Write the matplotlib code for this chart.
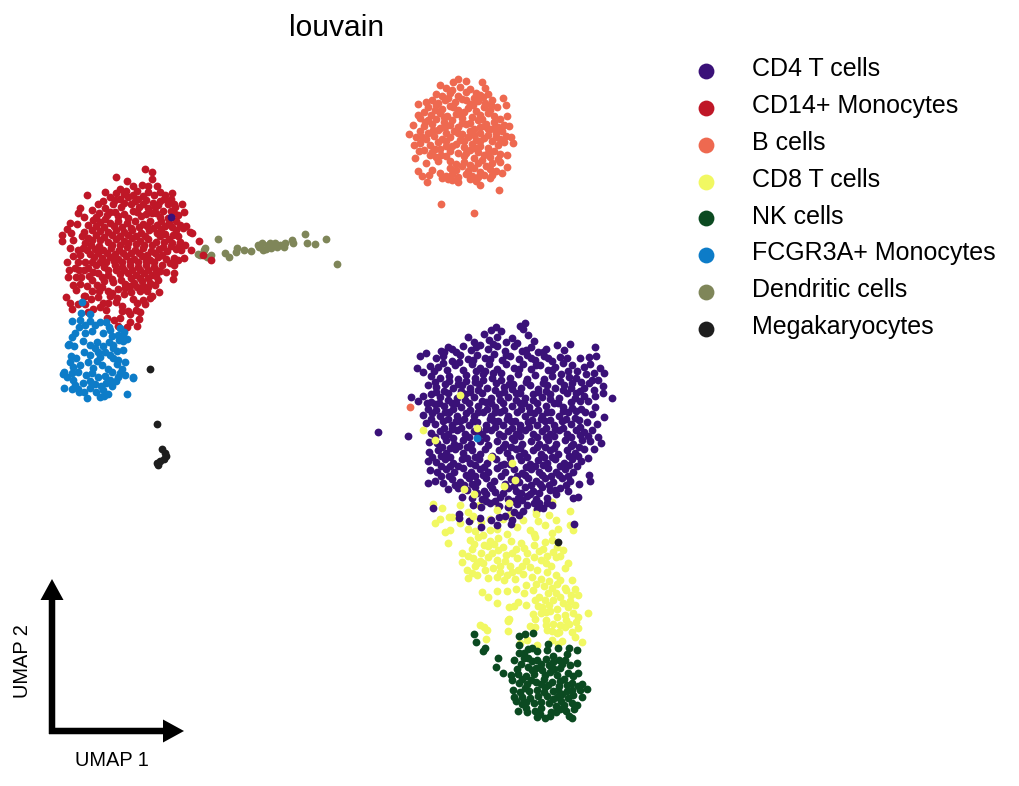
import numpy as np
import matplotlib
matplotlib.use('Agg')
import matplotlib.pyplot as plt
from matplotlib.lines import Line2D

plt.rcParams['font.family'] = ['Liberation Sans', 'DejaVu Sans']

# values, x right / y down
categories = ['CD4 T cells', 'CD14+ Monocytes', 'B cells', 'CD8 T cells', 'NK cells',
              'FCGR3A+ Monocytes', 'Dendritic cells', 'Megakaryocytes']
colors = ['#3a1178', '#bf1727', '#ee6950', '#f1f862', '#0b4a21', '#0d7cc8', '#7f8659', '#1e1e1e']

cd4 = [(378,432),(408,436),(171,217),(491,330),(496,327),(501,331),(520,326),(525,323),(523,329),
(468,337),(474,342),(484,334),(489,340),(497,337),(506,342),(512,338),(528,335),(534,341),
(441,351),(448,347),(456,352),(463,346),(471,350),(480,345),(488,349),(497,346),(505,351),(514,346),(522,351),(531,347),(538,352),(546,349),(557,345),(564,350),(570,344),
(420,356),(426,353),(436,358),(443,356),(452,361),(460,355),(468,359),(477,355),(485,358),(494,354),(502,360),(510,356),(519,359),(527,355),(535,360),(544,356),(552,361),(560,357),(567,358),(595,347),
(417,368),(423,372),(430,366),(438,367),(447,370),(455,365),(463,370),(472,364),(480,368),(489,364),(497,369),(506,364),(514,368),(523,364),(531,369),(540,365),(548,370),(555,367),(563,363),(572,365),(580,358),(589,357),(596,356),(590,364),(600,368),
(431,376),(440,378),(449,376),(458,379),(466,375),(475,378),(483,374),(492,378),(501,373),(510,378),(518,374),(527,379),(535,375),(544,379),(552,376),(561,374),(569,377),(577,371),(586,374),(594,373),(604,373),
(428,385),(436,387),(445,384),(453,388),(462,385),(470,388),(479,384),(487,388),(496,383),(504,387),(513,384),(521,388),(530,385),(538,389),(547,385),(555,388),(564,385),(572,383),(581,382),(589,383),(598,380),
(423,396),(431,394),(440,397),(448,393),(457,398),(465,394),(474,397),(482,393),(491,398),(499,394),(508,397),(516,393),(525,398),(533,394),(542,397),(550,394),(559,398),(567,393),(576,393),(584,388),(594,390),(603,386),(612,398),
(411,397),(418,401),(427,403),(435,404),(444,406),(452,403),(461,407),(469,403),(478,406),(486,402),(495,407),(503,403),(512,406),(520,403),(529,407),(537,403),(546,406),(554,403),(563,407),(571,402),(580,401),(588,401),(603,393),(595,396),
(423,415),(432,413),(440,416),(449,412),(457,416),(466,413),(474,416),(483,412),(491,416),(500,412),(508,416),(517,412),(525,416),(534,413),(542,416),(551,412),(559,416),(568,412),(576,411),(585,412),(595,407),(604,417),(592,414),
(426,423),(435,424),(443,421),(452,425),(460,421),(469,425),(477,422),(486,425),(494,421),(503,425),(511,421),(520,425),(528,422),(537,425),(545,421),(554,425),(562,421),(571,424),(579,420),(587,422),(597,424),
(431,433),(440,431),(448,434),(457,430),(465,434),(474,431),(482,434),(491,430),(499,434),(508,431),(516,434),(525,430),(533,434),(542,431),(550,434),(559,430),(567,434),(576,430),(584,432),(592,430),(598,437),
(429,442),(437,443),(446,440),(454,444),(463,440),(471,444),(480,441),(488,445),(497,441),(505,444),(514,440),(522,444),(531,441),(539,444),(548,440),(556,444),(565,440),(573,444),(582,440),(590,441),(601,443),
(429,452),(438,450),(446,453),(455,449),(463,453),(472,450),(480,454),(499,450),(507,453),(516,449),(524,453),(533,450),(541,454),(550,450),(558,454),(567,450),(575,453),(584,449),(594,449),
(428,461),(436,462),(445,459),(453,463),(462,459),(470,463),(479,459),(487,463),(496,459),(504,464),(521,460),(530,464),(538,460),(547,463),(555,459),(564,463),(572,459),(581,461),(588,458),
(430,470),(437,472),(446,469),(454,472),(463,468),(471,472),(480,469),(488,472),(497,468),(505,472),(514,469),(522,473),(531,469),(539,472),(548,468),(556,472),(565,469),(573,472),(589,475),(590,481),
(428,483),(435,481),(443,483),(452,479),(460,482),(469,478),(477,482),(486,478),(494,481),(511,479),(519,482),(528,478),(536,481),(545,478),(553,482),(562,478),(570,481),(579,484),
(448,489),(458,488),(467,490),(475,487),(484,491),(492,488),(508,488),(516,491),(525,487),(533,491),(542,487),(550,490),(560,488),(568,491),(573,498),(578,497),
(462,497),(472,498),(482,499),(500,497),(508,499),(518,498),(527,496),(536,499),(547,498),(556,494),
(473,505),(481,507),(490,503),(499,506),(508,507),(517,504),(527,505),(534,503),(543,508),(552,505),
(433,508),(459,514),(469,521),(481,527),(491,520),(497,525),(480,518),(514,512),(505,516),(523,511),(537,509),(512,520),(519,515),(459,518),(511,524),(574,524),(499,517)]

cd4_dense = [(444,352),(452,349),(476,347),(493,344),(517,343),(526,350),(543,352),(473,360),(490,359),(506,355),(531,358),(548,358),
(434,371),(443,363),(459,362),(476,371),(485,371),(493,373),(519,369),(536,365),(552,370),(568,371),(584,367),
(435,382),(449,381),(458,384),(466,381),(475,382),(483,380),(501,380),(509,384),(526,382),(543,383),(560,381),(576,378),(592,380),
(436,392),(444,391),(461,391),(470,392),(478,390),(495,390),(504,392),(512,389),(520,393),(538,392),(546,391),(563,390),(571,388),(580,391),
(431,402),(439,403),(448,400),(456,403),(465,400),(482,401),(491,403),(500,400),(516,400),(524,403),(533,400),(550,399),(558,403),(575,398),(584,396),
(428,409),(436,410),(445,412),(453,409),(470,410),(478,412),(487,409),(495,412),(504,410),(521,409),(530,412),(538,410),(547,412),(563,411),(572,408),(581,409),
(431,419),(448,419),(456,421),(464,419),(473,421),(490,419),(498,421),(507,419),(515,421),(532,420),(541,419),(550,420),(566,419),(575,418),
(444,428),(452,429),(461,428),(478,429),(486,429),(495,427),(512,428),(520,429),(529,427),(546,428),(555,429),(563,428),(580,427),
(435,437),(444,436),(453,438),(469,437),(478,436),(486,438),(503,436),(512,438),(520,436),(537,437),(546,437),(554,436),(571,437),(580,435),(588,436),
(442,447),(450,448),(459,446),(467,447),(485,449),(503,447),(511,447),(520,448),(537,447),(545,447),(554,448),(571,446),(579,447),
(432,457),(441,456),(450,457),(467,458),(475,457),(492,456),(510,458),(519,456),(527,457),(544,457),(552,457),(569,456),(578,456),
(441,466),(450,466),(458,466),(475,465),(484,467),(501,465),(510,464),(526,467),(535,466),(543,465),(560,466),(569,465),(577,466),
(441,476),(449,476),(466,475),(475,476),(483,475),(501,476),(517,476),(525,475),(542,475),(551,476),(559,475),(568,476),
(455,485),(464,485),(472,484),(490,485),(505,484),(514,486),(531,485),(540,484),(549,485),(566,485),
(477,493),(486,494),(495,492),(503,493),(521,493),(530,494),(539,493),(555,490),(486,501),(495,501),(513,501),(522,500),(539,503),(547,503)]

cd14 = [(145,169),(152,172),(152,179),(116,177),(127,181),(133,186),(142,185),(148,186),(157,186),(160,192),(165,195),(172,193),(87,195),(105,192),
(120,189),(116,193),(126,191),(137,191),(148,192),(154,195),(171,199),(168,204),(174,204),(182,204),(184,212),(80,208),
(110,197),(120,199),(128,197),(138,199),(146,200),(153,203),(160,201),(98,204),(105,208),(113,204),(121,207),(131,204),(139,207),(148,208),(155,207),(163,211),(175,207),(174,213),
(78,213),(84,217),(92,210),(99,213),(107,215),(115,212),(124,214),(133,211),(141,216),(152,213),(160,217),(168,218),(176,221),(183,228),(192,233),(190,232),
(70,223),(67,229),(77,224),(84,232),(93,220),(100,222),(110,223),(118,221),(127,223),(135,221),(143,224),(150,221),(157,225),(165,226),(172,227),(180,225),(186,226),
(62,235),(62,241),(73,240),(71,233),(92,230),(100,231),(108,232),(116,230),(124,232),(132,230),(141,233),(149,230),(157,233),(165,234),(173,235),(178,236),(199,241),
(70,248),(78,250),(85,243),(92,240),(100,240),(108,242),(116,239),(124,241),(132,238),(140,241),(148,239),(156,242),(164,242),(172,243),(180,242),(185,245),
(73,256),(80,255),(87,250),(95,249),(103,250),(111,248),(119,250),(127,247),(135,250),(143,248),(151,251),(159,249),(167,251),(176,249),(181,250),(191,250),
(78,262),(85,262),(67,262),(75,268),(94,257),(102,258),(110,257),(118,259),(126,256),(134,259),(142,256),(150,260),(158,257),(166,259),(174,258),(184,258),(203,255),(211,260),
(68,277),(69,270),(79,270),(88,268),(96,265),(104,267),(115,265),(122,267),(130,265),(138,267),(146,265),(154,267),(162,265),(170,263),(174,265),(178,260),
(73,285),(81,277),(89,276),(98,273),(108,275),(120,274),(128,273),(136,275),(144,273),(152,275),(160,271),(174,273),(173,279),(166,272),
(66,297),(76,290),(80,284),(92,280),(84,296),(104,281),(113,282),(121,280),(134,283),(142,281),(150,283),(158,280),(155,285),(148,287),
(70,303),(72,309),(78,304),(85,296),(92,291),(102,287),(108,291),(118,289),(125,288),(131,292),(140,291),(147,291),(152,296),(159,292),
(85,304),(91,299),(98,297),(103,303),(110,296),(108,303),(117,298),(124,294),(133,299),(137,303),(143,300),(150,298),(145,304),
(88,312),(93,309),(100,307),(106,310),(116,302),(122,306),(128,311),(136,310),(140,312),(130,314),(122,311),(107,318),(114,320),(120,318),(130,322),(139,319),(137,326),(127,327),(118,326)]

cd14_dense = [(124,194),(133,195),(143,196),(164,199),(115,200),(124,203),(135,201),(143,204),(158,205),(103,201),(110,212),(118,216),(128,218),(137,212),(146,214),(156,213),(171,211),
(96,217),(105,219),(114,226),(122,227),(131,228),(139,227),(147,226),(161,221),(169,223),(178,215),(88,225),(96,226),(104,227),(112,235),(120,236),(128,235),(136,236),(145,236),(153,228),(161,229),
(176,230),(82,236),(88,238),(96,235),(104,237),(112,245),(120,245),(128,243),(136,244),(144,245),(152,245),(160,236),(169,239),(179,246),(83,248),(91,245),(99,246),(107,253),(115,254),(123,253),
(131,253),(139,253),(147,255),(155,253),(163,247),(171,246),(90,254),(98,253),(106,262),(114,261),(122,262),(130,261),(138,262),(146,261),(154,262),(162,255),(92,262),(84,270),(100,262),(108,270),
(116,270),(124,270),(132,270),(140,270),(148,270),(156,270),(76,277),(93,272),(102,277),(112,279),(131,278),(140,278),(148,278),(156,276),(87,286),(97,285),(125,284),(130,286),(137,287),(143,286),(112,293),(99,291)]

b_cells = [(440,85),(453,82),(458,79),(466,81),(482,82),(485,88),(503,98),(506,105),(507,116),(509,126),(511,137),(513,143),(507,155),(507,167),(502,173),(499,190),(480,185),(458,182),(474,213),(441,204),(427,182),(422,176),(418,171),(429,175),(432,170),(426,163),(415,158),(419,151),(414,145),(409,134),(413,125),(418,115),(418,104),(426,102),(410,407),
(446,88),(452,90),(460,87),(470,89),(476,93),(436,94),(442,96),(450,93),(458,96),(466,92),(474,98),(480,95),(488,94),(432,100),(438,103),(445,100),(455,102),(462,99),(470,104),(478,101),(485,103),(492,100),
(428,107),(436,105),(442,109),(450,106),(458,110),(468,108),(476,111),(484,107),(490,110),(497,107),(424,112),(431,115),(440,113),(447,116),(456,114),(464,112),(472,117),(480,115),(488,113),(494,116),
(420,118),(428,120),(436,119),(444,122),(452,120),(462,118),(470,123),(478,120),(486,124),(494,122),(500,119),(424,126),(432,124),(440,128),(450,125),(458,127),(466,124),(474,129),(484,126),(490,129),(498,127),(504,125),
(420,131),(428,133),(438,130),(446,133),(454,131),(462,134),(470,131),(480,133),(488,135),(496,133),(502,131),(416,137),(426,139),(434,136),(442,139),(450,137),(460,140),(468,137),(476,140),(484,138),(492,141),(500,139),(506,136),
(420,143),(430,145),(438,142),(446,146),(456,144),(464,147),(472,144),(480,146),(488,148),(498,145),(504,142),(424,150),(432,152),(440,149),(450,151),(458,153),(470,150),(478,152),(484,155),(494,151),(500,154),
(430,155),(436,157),(446,156),(464,156),(474,158),(482,160),(490,157),(498,159),(438,161),(450,161),(456,164),(464,162),(470,165),(478,163),(486,166),(492,163),(500,162),
(450,168),(456,170),(462,166),(468,171),(474,168),(480,172),(490,169),(496,171),(440,173),(446,176),(452,174),(458,177),(466,174),(472,176),(478,177),(484,175),(492,175),(442,178),(448,179),(452,180),(470,179),(476,181),(490,178),
(448,98),(466,100),(483,97),(435,110),(453,107),(473,105),(491,105),(444,117),(460,114),(482,119),(425,122),(445,127),(462,123),(480,127),(494,128),(433,130),(458,133),(474,135),(488,129),(422,137),(446,141),(464,141),(480,141),(496,137),(435,149),(452,146),(466,153),(488,153),(441,155),(475,148)]

cd8 = [(433,504),(442,508),(449,517),(440,519),(452,517),(460,505),(468,512),(479,505),(498,506),(510,514),(536,511),(552,502),(570,511),(549,515),(570,525),
(445,532),(450,530),(448,543),(435,523),(460,523),(470,520),(481,522),(490,519),(503,519),(523,520),(538,521),(556,520),(573,530),
(468,529),(475,531),(483,535),(490,530),(497,529),(507,534),(517,527),(530,530),(534,534),(545,525),(552,533),(558,529),
(470,540),(478,537),(490,541),(498,538),(511,541),(521,543),(535,537),(545,542),(552,540),(557,547),
(462,553),(472,549),(481,553),(488,546),(498,550),(506,555),(516,549),(527,553),(534,545),(543,549),(553,552),(560,556),(563,550),
(462,562),(473,558),(480,561),(488,557),(497,560),(505,561),(517,558),(526,561),(541,560),(546,563),(556,557),(568,563),
(467,570),(475,566),(485,570),(493,568),(500,572),(510,566),(518,570),(530,567),(537,570),(547,572),(556,575),(565,568),
(468,578),(477,575),(488,578),(497,577),(507,575),(515,579),(523,574),(532,577),(541,579),(549,581),(557,584),(572,580),(565,588),
(482,592),(488,597),(497,591),(507,591),(516,589),(524,593),(533,590),(539,597),(548,593),(556,593),(566,590),(575,589),(578,595),
(497,603),(509,607),(508,620),(518,602),(526,605),(535,600),(542,607),(549,605),(560,597),(570,601),(575,605),(568,607),
(509,619),(514,606),(533,614),(541,613),(550,611),(557,617),(565,615),(573,613),(576,622),(588,613),
(530,626),(535,619),(546,620),(553,624),(560,625),(569,624),(578,617),(552,631),
(480,625),(484,627),(487,630),(486,639),(508,631),(508,621),(547,630),(557,633),(572,632),(578,628),(575,637),(582,642),(562,641),(535,627),(527,640),(546,625),
(520,643),(537,645),(552,640),(558,644),
(474,544),(484,545),(494,544),(503,547),(524,548),(539,551),(468,556),(477,563),(492,553),(500,566),(512,553),(522,566),(534,557),(547,556),(551,566),(472,573),(483,563),(504,580),(512,572),(526,585),(536,584),(544,586),(552,588),(560,580),(571,595),(563,603),(553,600),(545,600),(557,609),(538,606),(546,612),(566,620),(559,632),(565,627)]

cd8_on_top = [(423,430),(435,440),(491,457),(512,463),(460,395),(504,486),(515,480),(473,516),(497,510),(509,503),(536,514),(464,489),(474,494),(477,428)]

nk = [(474,634),(476,642),(483,651),(485,648),(498,658),(496,667),(503,673),(525,634),(533,633),(519,636),(532,648),(548,644),(569,648),(577,650),
(519,645),(519,653),(528,649),(537,651),(547,650),(558,648),(553,656),(567,654),(559,660),
(514,660),(524,658),(532,661),(546,659),(553,662),(565,660),(536,668),(528,667),(517,669),(511,675),(560,668),(570,665),(577,663),(568,673),
(518,674),(526,676),(534,674),(542,670),(550,672),(557,675),(564,679),(573,676),(578,673),(512,680),(519,683),(527,684),(536,682),(544,679),(552,682),(559,686),(567,685),(582,684),(587,689),
(513,690),(520,692),(529,691),(537,690),(545,687),(553,691),(562,694),(572,690),(580,690),(514,697),(522,697),(530,698),(538,696),(547,696),(553,699),(561,701),(568,698),(573,695),(582,697),
(516,701),(522,704),(518,711),(526,708),(534,703),(541,702),(549,703),(556,706),(564,705),(572,703),(577,705),(574,709),
(527,712),(535,711),(540,714),(545,718),(551,712),(556,712),(537,717),(550,716),(569,716),(572,718),(560,709),(566,711),
(524,653),(528,658),(537,660),(541,664),(549,665),(562,664),(521,664),(532,670),(545,675),(554,669),(522,679),(531,680),(548,685),(560,681),(572,683),(525,688),(541,684),(558,690),(567,691),(526,702),(544,692),(557,697),(578,686),(541,708),(563,708)]

fcgr3a = [(82,302),(81,313),(80,320),(72,321),(79,327),(85,325),(90,321),(95,325),(100,322),(90,314),(106,322),(109,327),
(75,333),(72,337),(85,333),(83,341),(92,331),(97,342),(103,333),(110,330),(118,335),(124,332),(120,328),(112,336),(109,342),(119,340),(123,336),
(69,344),(74,346),(68,345),(90,345),(95,348),(98,352),(103,346),(113,348),(117,351),(110,355),(113,345),(123,341),(127,339),
(71,356),(76,358),(84,352),(90,355),(100,357),(105,352),(97,361),(113,358),(118,360),(123,350),(133,377),
(70,362),(73,367),(80,365),(88,362),(93,368),(102,365),(108,369),(117,364),(112,372),(122,369),(125,362),(118,377),
(64,372),(67,377),(63,374),(72,373),(78,372),(86,375),(92,373),(98,377),(105,376),(110,380),(116,381),(120,373),(125,375),(133,378),
(64,388),(73,380),(75,385),(83,383),(90,381),(95,384),(101,386),(106,383),(112,386),(72,389),(78,389),(84,392),(90,388),(96,392),(103,390),(108,394),(87,398),(100,397),(104,396),(127,394),(79,392)]

dendritic = [(218,239),(198,254),(204,250),(205,248),(200,255),(207,257),(211,255),(210,258),(225,253),(229,257),(237,248),(236,252),(244,250),(251,251),(258,245),(262,243),(259,247),(263,250),(268,245),(266,249),(270,243),(271,248),(280,245),(275,243),(277,247),(285,243),(284,247),(293,243),(292,240),(305,234),(307,243),(315,244),(326,239),(337,264)]

megakaryocytes = [(150,369),(157,424),(162,449),(165,453),(166,456),(164,459),(160,461),(158,465),(157,463),(558,542)]

fcgr3a_stray = [(477,438)]

# scanpy style corner arrows
arrow_origin = (52, 731)
arrow_tips = [(184, 731), (52, 579)]
corner = 3

fig = plt.figure(figsize=(1019 / 150, 786 / 150), dpi=150)
ax = fig.add_axes([0, 0, 1, 1])
ax.set_xlim(0, 1019)
ax.set_ylim(786, 0)
ax.axis('off')

# drawing order decides who sits on top
draw_order = [
    (dendritic, colors[6]), (cd14 + cd14_dense, colors[1]), (cd8, colors[3]),
    (cd4 + cd4_dense, colors[0]), (cd8_on_top, colors[3]), (b_cells, colors[2]),
    (fcgr3a + fcgr3a_stray, colors[5]), (nk, colors[4]), (megakaryocytes, colors[7]),
]
for points, color in draw_order:
    pts = np.array(points)
    ax.scatter(pts[:, 0], pts[:, 1], s=14, color=color, linewidths=0)

for tip in arrow_tips:
    # start a little past the origin so the corner comes out square
    dx = np.sign(tip[0] - arrow_origin[0]) * corner
    dy = np.sign(tip[1] - arrow_origin[1]) * corner
    start = (arrow_origin[0] - dx, arrow_origin[1] - dy)
    ax.arrow(start[0], start[1], tip[0] - start[0], tip[1] - start[1],
             width=6.5, head_width=23, head_length=21, length_includes_head=True,
             color='black', linewidth=0)

ax.text(337, 28, 'louvain', fontsize=14.4, ha='center', va='center')
ax.text(112, 760, 'UMAP 1', fontsize=9.6, ha='center', va='center')
ax.text(23, 661, 'UMAP 2', fontsize=9.6, ha='center', va='center', rotation=90)

handles = [Line2D([], [], linestyle='none', marker='o', markersize=7.6, color=c,
                  markeredgewidth=0) for c in colors]
leg = ax.legend(handles, categories, loc='upper left', bbox_to_anchor=(694, 61),
                bbox_transform=ax.transData, frameon=False, fontsize=12, borderpad=0,
                borderaxespad=0, handlelength=1, handletextpad=1.33, labelspacing=0.51)
# labels sit a touch above their markers in the original
for label in leg.get_texts():
    label.set_y(3.5)

fig.savefig('out.png', dpi=150)
